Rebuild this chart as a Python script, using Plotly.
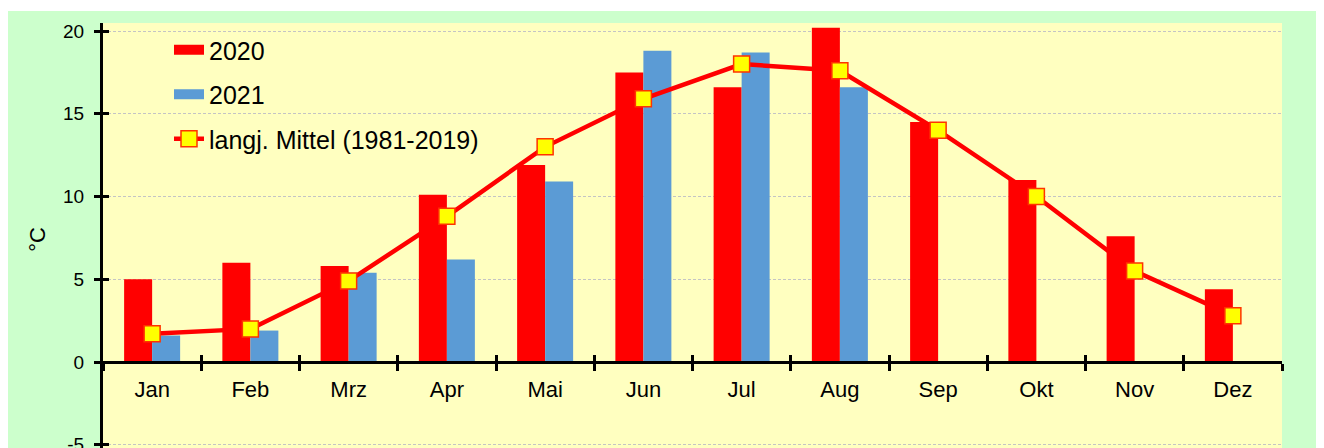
import plotly.graph_objects as go

# ---- data ----
months = ["Jan", "Feb", "Mrz", "Apr", "Mai", "Jun", "Jul", "Aug", "Sep", "Okt", "Nov", "Dez"]
t2020 = [5.0, 6.0, 5.8, 10.1, 11.9, 17.5, 16.6, 20.2, 14.5, 11.0, 7.6, 4.4]
t2021 = [1.6, 1.9, 5.4, 6.2, 10.9, 18.8, 18.7, 16.6, None, None, None, None]
mittel = [1.7, 2.0, 4.9, 8.8, 13.0, 15.9, 18.0, 17.6, 14.0, 10.0, 5.5, 2.8]
y_ticks = [-5, 0, 5, 10, 15, 20]
y_ticktext = ["-5", "0", "5", "10", "15", "20"]
series_names = ["2020", "2021", "langj. Mittel (1981-2019)"]

# ---- geometry (figure coordinates; page adds an 8px body margin) ----
W, H = 1324, 448
ML, MR, MT, MB = 95, 50, 15, 0
PW, PH = W - ML - MR, H - MT - MB
PX_PER_UNIT = 16.55
Y0_PX = 354  # pixel row of y=0 inside the figure
YMAX = (Y0_PX - MT) / PX_PER_UNIT
YMIN = -(H - MB - Y0_PX) / PX_PER_UNIT
p0 = (0 - YMIN) / (YMAX - YMIN)  # paper position of the y=0 line

idx = list(range(len(months)))
bounds = [i - 0.5 for i in range(len(months) + 1)]
BW = 0.285

RED = "#ff0000"
BLUE = "#5b9bd5"
FONT = "Liberation Sans, Arial, sans-serif"

fig = go.Figure()

fig.add_trace(go.Bar(x=idx, y=t2020, xaxis="x", yaxis="y", offset=-BW, width=BW,
                     marker=dict(color=RED, line=dict(width=0)), showlegend=False,
                     hoverinfo="skip"))
fig.add_trace(go.Bar(x=idx, y=t2021, xaxis="x2", yaxis="y", offset=0, width=BW,
                     marker=dict(color=BLUE, line=dict(width=0)), showlegend=False,
                     hoverinfo="skip"))

# legend entries for the bars
fig.add_trace(go.Scatter(x=[None], y=[None], mode="lines", name=series_names[0],
                         line=dict(color=RED, width=14), legendgroup="a", legendrank=1))
fig.add_trace(go.Scatter(x=[None], y=[None], mode="lines", name=series_names[1],
                         line=dict(color=BLUE, width=14), legendgroup="b", legendrank=2))

fig.add_trace(go.Scatter(x=idx, y=mittel, xaxis="x3", yaxis="y2", mode="lines+markers",
                         name=series_names[2], legendgroup="c", legendrank=3,
                         line=dict(color=RED, width=4.5),
                         marker=dict(symbol="square", size=16, color="#ffff00",
                                     line=dict(color="#ff3300", width=1.5)),
                         hoverinfo="skip"))

common_x = dict(showgrid=False, zeroline=False, anchor="free", position=p0)

fig.update_layout(
    width=W, height=H,
    margin=dict(l=ML, r=MR, t=MT, b=MB, pad=0),
    paper_bgcolor="#ccffcc",
    plot_bgcolor="#ffffc0",
    font=dict(family=FONT, color="black"),
    barmode="overlay",
    xaxis=dict(range=[-0.5, 11.5], tickmode="array", tickvals=bounds,
               ticks="outside", ticklen=7, tickwidth=3, tickcolor="black",
               showticklabels=False, showline=True, linecolor="black", linewidth=3,
               **common_x),
    xaxis2=dict(overlaying="x", matches="x", tickmode="array", tickvals=bounds,
                ticks="inside", ticklen=7, tickwidth=3, tickcolor="black",
                showticklabels=False, showline=False, **common_x),
    xaxis3=dict(overlaying="x", matches="x", tickmode="array", tickvals=idx,
                ticktext=months, ticks="", showline=False,
                tickfont=dict(size=22, color="black", family=FONT),
                ticklabelstandoff=12, **common_x),
    yaxis=dict(range=[YMIN, YMAX], tickmode="array", tickvals=y_ticks, ticktext=y_ticktext,
               ticks="outside", ticklen=6, tickwidth=3, tickcolor="black",
               showline=True, linecolor="black", linewidth=3,
               showgrid=True, gridcolor="#c4c4c4", gridwidth=1, griddash="3px,2px",
               zeroline=False, tickfont=dict(size=19, color="black", family=FONT),
               ticklabelstandoff=6,
               title=dict(text="°C", font=dict(size=22, color="black", family=FONT),
                          standoff=12)),
    yaxis2=dict(overlaying="y", matches="y", anchor="x", side="left",
                tickmode="array", tickvals=y_ticks, ticks="inside", ticklen=6,
                tickwidth=3, tickcolor="black", showticklabels=False,
                showgrid=False, zeroline=False, showline=False),
    legend=dict(x=(161 - ML) / PW, y=1 - (19 - MT) / PH, xanchor="left", yanchor="top",
                bgcolor="rgba(0,0,0,0)", borderwidth=0,
                font=dict(size=25, color="black", family=FONT),
                tracegroupgap=9, traceorder="grouped"),
    shapes=[
        dict(type="rect", xref="paper", yref="paper", layer="above",
             x0=-ML / PW - 0.01, x1=1 + MR / PW + 0.01, y0=1 + (MT - 3) / PH, y1=1 + MT / PH + 0.01,
             fillcolor="white", line=dict(width=0)),
    ],
)

fig.write_html("out.html")
